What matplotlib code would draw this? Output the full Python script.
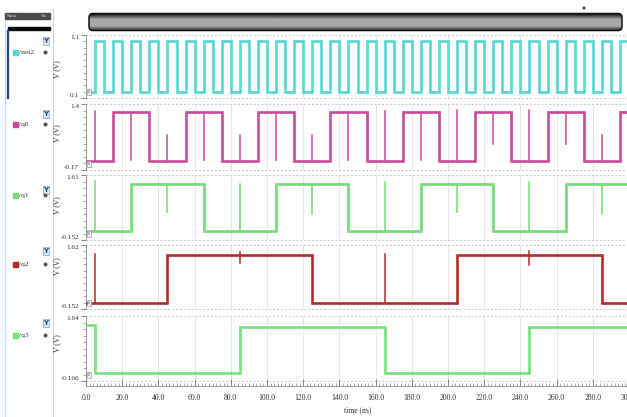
import numpy as np
import matplotlib
matplotlib.use("Agg")
import matplotlib.pyplot as plt
from matplotlib.patches import FancyBboxPatch, Rectangle, Circle
from matplotlib.ticker import MultipleLocator, FixedLocator

W, H = 627, 417
SERIF = ["Liberation Serif", "DejaVu Serif"]
plt.rcParams["font.family"] = SERIF

# ---- waveform data (time in ns, levels in V) ----
signal_names = ["/net2", "/q0", "/q1", "/q2", "/q3"]
signal_colors = ["#55d6cf", "#c94a98", "#74dc74", "#b42a2a", "#7ae27a"]
y_top = [1.1, 1.4, 1.61, 1.62, 1.64]
y_bottom = [0.1, -0.17, -0.152, -0.152, -0.166]
y_top_labels = ["1.1", "1.4", "1.61", "1.62", "1.64"]
y_bottom_labels = ["0.1", "-0.17", "-0.152", "-0.152", "-0.166"]

# clock: rising / falling edge times
net2_rise = [5, 15, 25, 35, 45, 55, 65, 75, 85, 95, 105, 115, 125, 135, 145,
             155, 165, 175, 185, 195, 205, 215, 225, 235, 245, 255, 265, 275, 285, 295]
net2_fall = [10, 20, 30, 40, 50, 60, 70, 80, 90, 100, 110, 120, 130, 140, 150,
             160, 170, 180, 190, 200, 210, 220, 230, 240, 250, 260, 270, 280, 290, 300]
net2_high, net2_low = 1.0, 0.2

q0_toggles = [15, 35, 55, 75, 95, 115, 135, 155, 175, 195, 215, 235, 255, 275, 295]
q0_high, q0_low = 1.21, 0.05
q0_glitch_t = [5, 25, 45, 65, 85, 105, 125, 145, 165, 185, 205, 225, 245, 265, 285]
q0_glitch_peak = [1.23, 0.07, 0.66, 0.07, 0.66, 0.07, 0.66, 0.07, 1.23, 0.07, 1.26, 0.45, 1.25, 0.45, 0.66]

q1_toggles = [25, 65, 105, 145, 185, 225, 265]
q1_high, q1_low = 1.385, 0.09
q1_glitch_t = [5, 45, 85, 125, 165, 205, 245, 285]
q1_glitch_peak = [1.45, 0.62, 1.39, 0.55, 1.42, 0.62, 1.42, 0.55]

q2_toggles = [45, 125, 205, 285]
q2_high, q2_low = 1.343, 0.01
q2_glitch_t = [5, 85, 165, 245]
q2_glitch_lo = [0.01, 1.11, 0.01, 1.08]
q2_glitch_hi = [1.37, 1.43, 1.37, 1.45]

q3_toggles = [5, 85, 165, 245]
q3_start, q3_high, q3_low = 1.39, 1.343, 0.05

time_major = [0, 20, 40, 60, 80, 100, 120, 140, 160, 180, 200, 220, 240, 260, 280, 300]


def px(x0, y0, x1, y1):
    """Pixel box (left, top, right, bottom) -> figure fraction rect."""
    return [x0 / W, 1 - y1 / H, (x1 - x0) / W, (y1 - y0) / H]


def toggle_wave(toggles, start, other, t_end=300.0):
    t = [0.0]
    v = [start]
    cur = start
    for tt in toggles:
        cur = other if cur == start else start
        t.append(tt)
        v.append(cur)
    t.append(t_end)
    v.append(cur)
    return np.array(t, float), np.array(v, float)


def clock_wave(rise, fall, hi, lo):
    t = [0.0]
    v = [lo]
    for r, f in zip(rise, fall):
        t += [r, f]
        v += [hi, lo]
    return np.array(t, float), np.array(v, float)


def level_at(t, v, when):
    idx = np.searchsorted(t, when, side="right") - 1
    return v[max(idx, 0)]


fig = plt.figure(figsize=(W / 100, H / 100), dpi=100)
fig.patch.set_facecolor("white")

# ---- background layer: name list, scroll bar ----
bg = fig.add_axes([0, 0, 1, 1], zorder=0)
bg.set_xlim(0, W)
bg.set_ylim(H, 0)
bg.axis("off")

bg.plot([5, 5], [20, H], color="#bfe8ee", lw=1.0)
bg.plot([53, 53], [8, H], color="#d6d6d6", lw=0.8)
bg.add_patch(Rectangle((5, 12.5), 45, 6.5, color="#4a4a4a"))
bg.text(7, 15.8, "Name", color="#d8d8d8", fontsize=3.2, va="center")
bg.text(41, 15.8, "Vis", color="#d8d8d8", fontsize=3.2, va="center")
bg.add_patch(Rectangle((8, 26.5), 42, 3.5, color="#0a0a0a"))
bg.plot([8, 8], [31, 98], color="#2b3f98", lw=1.6)

name_y = [52.5, 124.5, 195.5, 264.5, 335.5]
icon_y = [41, 113.5, 189.5, 251, 322.5]
vlabel_y = [69, 133, 205, 266, 343]
for name, col, ny, iy in zip(signal_names, signal_colors, name_y, icon_y):
    bg.add_patch(Rectangle((13, ny - 2.5), 4.5, 5, color=col))
    bg.text(19, ny, name, fontsize=5.4, va="center", color="#333333")
    bg.add_patch(Rectangle((42.5, iy - 4), 6, 8, facecolor="#dce8f4",
                           edgecolor="#8aa0bf", lw=0.5))
    bg.text(45.5, iy + 0.3, "Y", fontsize=5, fontweight="bold", ha="center",
            va="center", color="#1f3f7a", family=["DejaVu Sans"])
    bg.add_patch(Circle((45.5, ny), 1.3, color="#555555"))

for vy in vlabel_y:
    bg.text(57.5, vy, "V (V)", rotation=90, fontsize=5.5, ha="center",
            va="center", color="#333333")

# scroll bar with a dark-edged gradient
grad = np.concatenate([np.linspace(0.12, 0.66, 6), np.full(6, 0.66),
                       np.linspace(0.66, 0.18, 6)])[:, None]
grad = np.repeat(grad, 10, axis=1)
bar = FancyBboxPatch((89, 13.5), 533, 17, boxstyle="round,pad=0,rounding_size=4",
                     facecolor="none", edgecolor="#111111", lw=1.1, zorder=3)
bg.add_patch(bar)
im = bg.imshow(grad, cmap="gray", vmin=0, vmax=1, extent=(89, 622, 30.5, 13.5),
               aspect="auto", zorder=2, interpolation="bilinear")
im.set_clip_path(bar)
bg.set_xlim(0, W)
bg.set_ylim(H, 0)
bg.add_patch(Circle((584, 8), 0.8, color="#444444"))

# ---- waveform panels ----
panel_px = [(35, 98), (104, 170), (175.5, 240), (245, 309), (316, 381)]
x_left, x_right = 86, 629

waves = [
    clock_wave(net2_rise, net2_fall, net2_high, net2_low),
    toggle_wave(q0_toggles, q0_low, q0_high),
    toggle_wave(q1_toggles, q1_low, q1_high),
    toggle_wave(q2_toggles, q2_low, q2_high),
]
t3, v3 = toggle_wave(q3_toggles, q3_high, q3_low)
v3[0] = q3_start
waves.append((t3, v3))

glitches = [
    ([], [], []),
    (q0_glitch_t, None, q0_glitch_peak),
    (q1_glitch_t, None, q1_glitch_peak),
    (q2_glitch_t, q2_glitch_lo, q2_glitch_hi),
    ([], [], []),
]

for i, (top, bot) in enumerate(panel_px):
    ax = fig.add_axes(px(x_left, top, x_right, bot), zorder=2)
    ax.set_facecolor("none")
    ax.set_xlim(0, 300)
    ax.set_ylim(y_bottom[i], y_top[i])
    for s in ("top", "bottom", "right"):
        ax.spines[s].set_visible(False)
    ax.spines["left"].set_color("#8c8c8c")
    ax.spines["left"].set_linewidth(0.6)

    # faint grid
    for gx in time_major[1:]:
        ax.axvline(gx, color="#e2e2e2", lw=0.6, zorder=1)
    for gy in (y_bottom[i], y_top[i]):
        ax.axhline(gy, color="#c8c8c8", lw=0.7, ls=(0, (2, 2)), zorder=1,
                   clip_on=False)

    t, v = waves[i]
    ax.plot(t, v, drawstyle="steps-post", color=signal_colors[i], lw=1.9,
            zorder=3, solid_joinstyle="miter")

    gt, glo, ghi = glitches[i]
    for k, tt in enumerate(gt):
        base = level_at(t, v, tt) if glo is None else glo[k]
        ax.plot([tt, tt], [base, ghi[k]], color=signal_colors[i], lw=1.1,
                zorder=3)

    ax.yaxis.set_major_locator(FixedLocator([y_bottom[i], y_top[i]]))
    ax.set_yticklabels([y_bottom_labels[i], y_top_labels[i]])
    ax.yaxis.set_minor_locator(FixedLocator(
        np.linspace(y_bottom[i], y_top[i], 11)[1:-1]))
    ax.tick_params(axis="y", which="major", length=3.5, width=0.6,
                   color="#777777", labelsize=5.2, pad=1.5,
                   labelcolor="#333333")
    ax.tick_params(axis="y", which="minor", length=2, width=0.5,
                   color="#888888")
    # keep the stacked limit labels of neighbouring panels apart
    lo_lbl, hi_lbl = ax.get_yticklabels()
    lo_lbl.set_verticalalignment("bottom")
    hi_lbl.set_verticalalignment("top")
    ax.set_xticks([])

    # channel index box at lower left
    ax.text(1.2, y_bottom[i] + 0.06 * (y_top[i] - y_bottom[i]), "0",
            fontsize=3.2, color="#555555", va="bottom", ha="left",
            bbox=dict(boxstyle="square,pad=0.25", fc="#f0f0f0", ec="#888888",
                      lw=0.4), zorder=4)

# ---- time axis ----
tax = fig.add_axes(px(x_left, 380, x_right, 385.5), zorder=2)
tax.set_facecolor("none")
tax.set_xlim(0, 300)
tax.set_yticks([])
for s in ("top", "left", "right"):
    tax.spines[s].set_visible(False)
tax.spines["bottom"].set_color("#8c8c8c")
tax.spines["bottom"].set_linewidth(0.6)
tax.xaxis.set_major_locator(FixedLocator(time_major))
tax.set_xticklabels([f"{m:.1f}" for m in time_major])
tax.xaxis.set_minor_locator(MultipleLocator(2))
tax.tick_params(axis="x", which="major", direction="in", length=5, width=0.6,
                color="#777777", labelsize=5.5, pad=6, labelcolor="#333333")
tax.tick_params(axis="x", which="minor", direction="in", length=2.5,
                width=0.5, color="#888888")
tax.set_xlabel("time (ns)", fontsize=5.5, labelpad=3, color="#333333")

fig.savefig("out.png", dpi=100, facecolor="white")
